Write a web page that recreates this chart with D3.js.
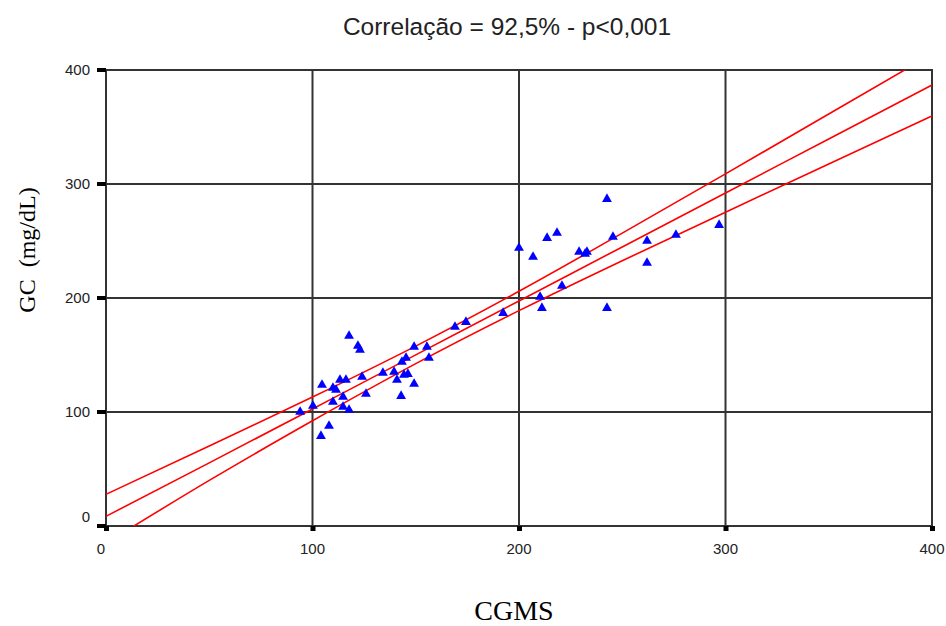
<!DOCTYPE html>
<html>
<head>
<meta charset="utf-8">
<script src="https://cdn.jsdelivr.net/npm/d3@7"></script>
<style>
    body { margin: 0; background: #fff; }
</style>
</head>
<body>
<div id="chart"></div>
<script>
// CGMS x GC scatter with regression line and confidence band

const cgms = [94.0, 100.2, 104.1, 108.0, 104.6, 109.9, 111.4, 113.3, 116.2, 109.9,
    114.8, 114.8, 117.7, 117.7, 122.0, 123.0, 124.0, 125.9, 134.1, 139.5,
    140.9, 142.9, 143.3, 145.3, 144.3, 146.2, 149.2, 149.2, 155.4, 156.4,
    169.0, 174.3, 192.3, 200.0, 206.8, 213.6, 218.4, 210.2, 211.1, 220.8,
    229.1, 232.0, 232.9, 242.6, 245.5, 242.6, 262.0, 262.0, 276.0, 296.9];
const gc = [100.0, 105.3, 78.9, 87.7, 123.7, 121.1, 119.3, 128.1, 128.1, 108.8,
    113.2, 104.4, 101.8, 166.7, 157.9, 154.4, 130.7, 115.8, 134.2, 135.1,
    128.1, 114.0, 143.9, 147.4, 132.5, 133.3, 124.6, 157.0, 157.0, 147.4,
    174.6, 178.9, 186.8, 243.9, 236.0, 252.6, 257.0, 200.9, 191.2, 210.5,
    240.4, 238.6, 240.4, 286.8, 253.5, 191.2, 250.0, 230.7, 255.3, 264.0];

// regression line and band, every 50 units
const fitX = [0, 50, 100, 150, 200, 250, 300, 350, 400];
const fitMid = [8.5, 55.4, 102.7, 150.1, 197.4, 244.8, 292.1, 339.5, 386.8];
const fitUpper = [27.8, 70.2, 113.1, 157.8, 205.9, 256.9, 308.9, 361.4, 413.9];
const fitLower = [-15.0, 40.0, 92.3, 142.4, 188.9, 232.7, 275.3, 317.6, 359.7];

const ticks = [0, 100, 200, 300, 400];
const title = "Correlação = 92,5% - p<0,001";
const xTitle = "CGMS";
const yTitle = "GC  (mg/dL)";

const width = 946;
const height = 626;
const plotL = 106, plotR = 932, plotT = 70, plotB = 526;

const svg = d3.select("#chart").append("svg")
    .attr("width", width)
    .attr("height", height)
    .style("background-color", "#fff");

const x = d3.scaleLinear().domain([0, 400]).range([plotL, plotR]);
const y = d3.scaleLinear().domain([0, 400]).range([plotB, plotT]);

// grid lines
const gridColor = "#333";
svg.append("g")
    .selectAll("line")
    .data(ticks.slice(1, 4))
    .join("line")
    .attr("x1", d => x(d)).attr("x2", d => x(d))
    .attr("y1", plotT).attr("y2", plotB)
    .attr("stroke", gridColor)
    .attr("stroke-width", 2);

svg.append("g")
    .selectAll("line")
    .data(ticks.slice(1, 4))
    .join("line")
    .attr("x1", plotL).attr("x2", plotR)
    .attr("y1", d => y(d)).attr("y2", d => y(d))
    .attr("stroke", gridColor)
    .attr("stroke-width", 2);

// frame
svg.append("rect")
    .attr("x", plotL).attr("y", plotT)
    .attr("width", plotR - plotL).attr("height", plotB - plotT)
    .attr("fill", "none")
    .attr("stroke", gridColor)
    .attr("stroke-width", 2);

// tick marks (small black blocks)
svg.append("g")
    .selectAll("rect")
    .data(ticks)
    .join("rect")
    .attr("x", plotL - 9)
    .attr("y", d => y(d) - 2)
    .attr("width", 9)
    .attr("height", 4)
    .attr("fill", "#000");

svg.append("g")
    .selectAll("rect")
    .data(ticks)
    .join("rect")
    .attr("x", d => x(d) - 2)
    .attr("y", plotB)
    .attr("width", 5)
    .attr("height", 5)
    .attr("fill", "#000");

// tick labels
const tickFont = "'Liberation Sans', Arial, sans-serif";
const serifFont = "'Liberation Serif', 'Times New Roman', serif";
svg.append("g")
    .selectAll("text")
    .data(ticks)
    .join("text")
    .attr("x", 90)
    .attr("y", d => d === 0 ? y(d) - 9 : y(d))
    .attr("dy", "0.35em")
    .attr("text-anchor", "end")
    .attr("font-family", tickFont)
    .attr("font-size", 15)
    .attr("fill", "#222")
    .text(d => d);

svg.append("g")
    .selectAll("text")
    .data(ticks)
    .join("text")
    .attr("x", d => d === 0 ? x(d) - 5 : x(d))
    .attr("y", 554)
    .attr("text-anchor", "middle")
    .attr("font-family", tickFont)
    .attr("font-size", 15)
    .attr("fill", "#222")
    .text(d => d);

// fit lines, clipped to the plot area
svg.append("clipPath")
    .attr("id", "plot-clip")
    .append("rect")
    .attr("x", plotL).attr("y", plotT)
    .attr("width", plotR - plotL).attr("height", plotB - plotT);

const fitLine = (vals) => d3.line()
    .x((d, i) => x(fitX[i]))
    .y((d, i) => y(vals[i]))
    .curve(d3.curveNatural)(vals);

svg.append("g")
    .attr("clip-path", "url(#plot-clip)")
    .selectAll("path")
    .data([fitUpper, fitMid, fitLower])
    .join("path")
    .attr("d", d => fitLine(d))
    .attr("fill", "none")
    .attr("stroke", "#ff0000")
    .attr("stroke-width", 1.6);

// points
svg.append("g")
    .selectAll("path")
    .data(cgms.map((v, i) => [v, gc[i]]))
    .join("path")
    .attr("transform", d => `translate(${x(d[0])},${y(d[1])})`)
    .attr("d", d3.symbol(d3.symbolTriangle).size(42))
    .attr("fill", "#0000ff");

// titles
svg.append("text")
    .attr("x", 507)
    .attr("y", 35)
    .attr("text-anchor", "middle")
    .attr("font-family", tickFont)
    .attr("font-size", 24.5)
    .attr("fill", "#222")
    .text(title);

svg.append("text")
    .attr("x", 514)
    .attr("y", 620)
    .attr("text-anchor", "middle")
    .attr("font-family", serifFont)
    .attr("font-size", 28)
    .attr("fill", "#000")
    .text(xTitle);

svg.append("text")
    .attr("transform", "translate(35,250) rotate(-90)")
    .attr("text-anchor", "middle")
    .attr("font-family", serifFont)
    .attr("font-size", 24)
    .attr("fill", "#000")
    .style("white-space", "pre")
    .text(yTitle);
</script>
</body>
</html>
